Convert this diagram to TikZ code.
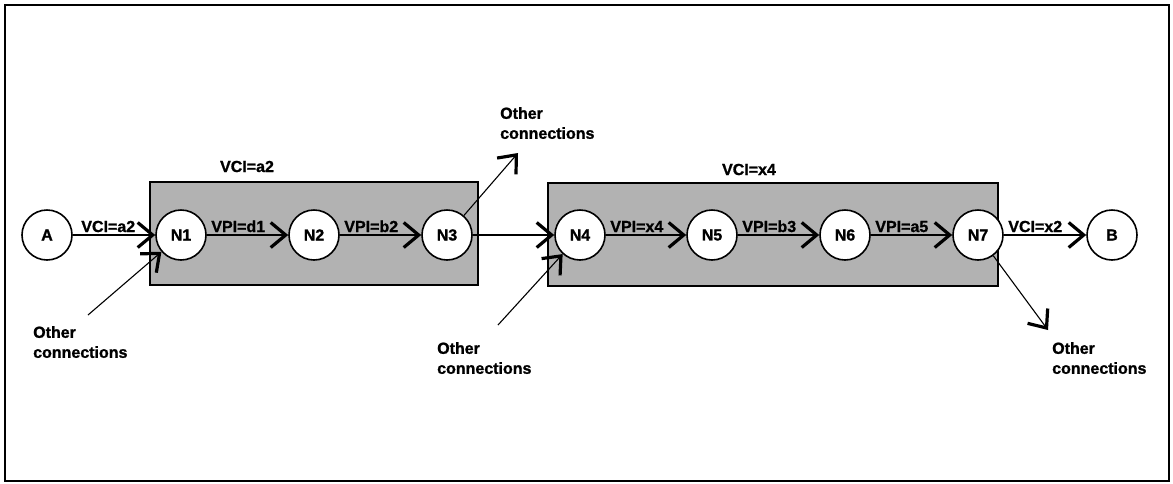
\documentclass[tikz,border=0pt]{standalone}
\usepackage{fontspec}
\setmainfont{Liberation Sans}[BoldFeatures={FakeBold=1.2}]
\usetikzlibrary{arrows.meta}

\tikzset{
  hop/.style={circle, draw, line width=1.6pt, fill=white, minimum size=50pt, inner sep=0pt},
  vcbox/.style={draw, line width=1.6pt, fill=black!30},
  conn/.style={line width=1.1pt, -{Straight Barb[length=15pt,width=25pt,line width=3.2pt]}},
  lbl/.style={inner sep=0pt, anchor=base west, xshift=4pt, yshift=3pt},
  note/.style={inner sep=0pt, anchor=north west, align=left},
}

\begin{document}
\begin{tikzpicture}[x=1pt, y=-1pt, font=\fontsize{16}{20}\selectfont\bfseries]
			\useasboundingbox (0,0) rectangle (1173,483);
			\draw[line width=2.5pt] (5,5) rectangle (1169,481);
			% virtual paths
			\draw[vcbox] (150,182) rectangle (478,285);
			\draw[vcbox] (548,183) rectangle (998,286);
			\node[inner sep=0pt, anchor=base] (vp1) at (247,172) {VCI=a2};
			\node[inner sep=0pt, anchor=base] (vp2) at (749,175) {VCI=x4};
			% switches
			\node[hop] (A) at (47,235) {A};
			\node[hop] (N1) at (181,235) {N1};
			\node[hop] (N2) at (314,235) {N2};
			\node[hop] (N3) at (447,235) {N3};
			\node[hop] (N4) at (580,235) {N4};
			\node[hop] (N5) at (712,235) {N5};
			\node[hop] (N6) at (845,235) {N6};
			\node[hop] (N7) at (978,235) {N7};
			\node[hop] (B) at (1112,235) {B};
			% connection
			\draw[conn] (A) -- (N1) node[lbl, pos=0, xshift=4pt] {VCI=a2};
			\draw[conn] (N1) -- (N2) node[lbl, pos=0] {VPI=d1};
			\draw[conn] (N2) -- (N3) node[lbl, pos=0] {VPI=b2};
			\draw[conn] (N3) -- (N4);
			\draw[conn] (N4) -- (N5) node[lbl, pos=0] {VPI=x4};
			\draw[conn] (N5) -- (N6) node[lbl, pos=0] {VPI=b3};
			\draw[conn] (N6) -- (N7) node[lbl, pos=0] {VPI=a5};
			\draw[conn] (N7) -- (B) node[lbl, pos=0] {VCI=x2};
			% other connections
			\coordinate (in1) at (88,315);
			\coordinate (out3) at (518,153);
			\coordinate (in4) at (498,325);
			\coordinate (out7) at (1048,330);
			\draw[conn] (in1) -- (N1);
			\draw[conn] (N3) -- (out3);
			\draw[conn] (in4) -- (N4);
			\draw[conn] (N7) -- (out7);
			\node[note] (oc1) at (33,326) {Other\\connections};
			\node[note] (oc3) at (500,107) {Other\\connections};
			\node[note] (oc4) at (437,342) {Other\\connections};
			\node[note] (oc7) at (1052,342) {Other\\connections};
		\end{tikzpicture}
\end{document}
